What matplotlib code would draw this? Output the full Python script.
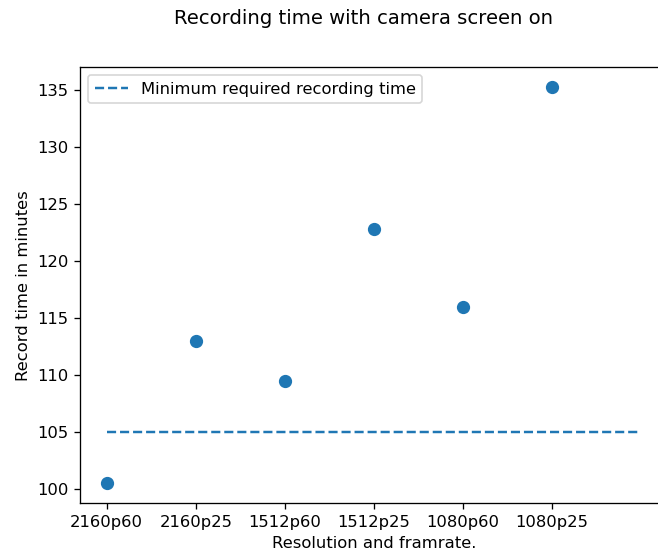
import matplotlib
matplotlib.use("Agg")
import matplotlib.pyplot as plt

categories = ["2160p60", "2160p25", "1512p60", "1512p25", "1080p60", "1080p25"]
record_minutes = [100.5, 112.95, 109.5, 122.8, 116.0, 135.25]
minimum_required = 105
line_x_end = 6

DPI = 118
W, H = 658, 558
fig = plt.figure(figsize=(W / DPI, H / DPI), dpi=DPI)
left, right, top, bottom = 80, 668, 67, 503.3
ax = fig.add_axes([left / W, (H - bottom) / H, (right - left) / W, (bottom - top) / H])

xs = list(range(len(categories)))
ax.hlines(minimum_required, 0, line_x_end, colors="C0", linestyles="dashed",
          linewidth=1.5, label="Minimum required recording time")
ax.scatter(xs, record_minutes, color="C0", s=50, zorder=3)
ax.set_xticks(xs)
ax.set_xticklabels(categories)
ax.set_xlabel("Resolution and framrate.")
ax.set_ylabel("Record time in minutes")
ax.legend(loc="upper left")

fig.text(363 / W, 1 - 18.5 / H, "Recording time with camera screen on",
         ha="center", va="center", fontsize=12)

fig.savefig("out.png", dpi=DPI)
